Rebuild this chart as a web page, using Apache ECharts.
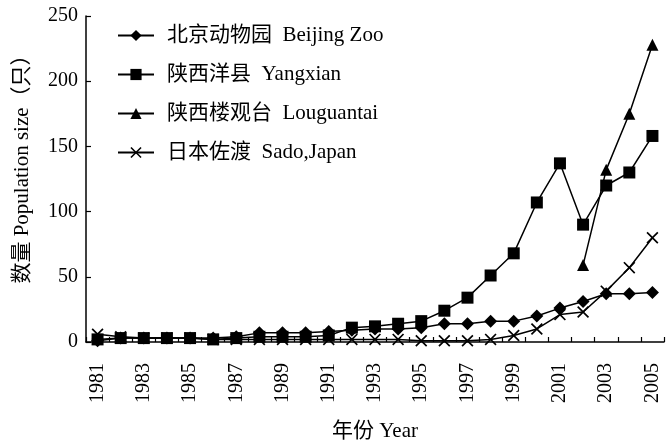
<!DOCTYPE html>
<html>
<head>
<meta charset="utf-8">
<script src="https://cdn.jsdelivr.net/npm/echarts@6/dist/echarts.min.js"></script>
<style>html,body{margin:0;padding:0;background:#fff}#c{width:667px;height:446px}</style>
</head>
<body>
<div id="c"></div>
<script>
const years = ['1981','1982','1983','1984','1985','1986','1987','1988','1989','1990','1991','1992','1993','1994','1995','1996','1997','1998','1999','2000','2001','2002','2003','2004','2005'];
const beijingZoo = [1,3,3,3,3,3,4,7,7,7,8,9,10,10,11,14,14,16,16,20,26,31,37,37,38];
const yangxian = [2,3,3,3,3,2,3,4,4,4,5,11,12,14,16,24,34,51,68,107,137,90,120,130,158];
const louguantai = [null,null,null,null,null,null,null,null,null,null,null,null,null,null,null,null,null,null,null,null,null,59,132,175,228];
const sado = [6,4,3,3,3,2,2,2,2,2,2,2,2,2,1,1,1,2,5,10,21,23,39,57,80];
const yTicks = {min:0, max:250, interval:50};
const names = ['北京动物园  Beijing Zoo','陕西洋县  Yangxian','陕西楼观台  Louguantai','日本佐渡  Sado,Japan'];

const FONT = '"Liberation Serif", "Noto Sans CJK SC", serif';
const crossPath = 'path://M0,1L1,0L5,4L9,0L10,1L6,5L10,9L9,10L5,6L1,10L0,9L4,5Z';
function mk(name, data, symbol, size){
  return {name:name, type:'line', data:data, symbol:symbol, symbolSize:size,
    showAllSymbol:true, connectNulls:false,
    lineStyle:{color:'#000', width:1.5}, itemStyle:{color:'#000'}, animation:false};
}
const chart = echarts.init(document.getElementById('c'));
chart.setOption({
  backgroundColor:'#fff',
  animation:false,
  grid:{left:86, right:3, top:16, bottom:104, containLabel:false, outerBoundsMode:'none'},
  legend:{orient:'vertical', left:117, top:25, padding:0, itemWidth:36, itemHeight:14, itemGap:18,
    textStyle:{fontFamily:FONT, fontSize:21, color:'#000', padding:[0,0,0,8]},
    data:names},
  xAxis:{type:'category', data:years, boundaryGap:true,
    name:'年份 Year', nameLocation:'middle', nameGap:79,
    nameTextStyle:{fontFamily:FONT, fontSize:21, color:'#000'},
    axisLine:{lineStyle:{color:'#000', width:1.5}},
    axisTick:{show:true, inside:true, length:5, interval:0, lineStyle:{color:'#000', width:1.2}},
    axisLabel:{interval:1, rotate:90, margin:21, fontFamily:FONT, fontSize:20, color:'#000'},
    splitLine:{show:false}},
  yAxis:{type:'value', min:yTicks.min, max:yTicks.max, interval:yTicks.interval,
    name:'数量 Population size（只）', nameLocation:'middle', nameGap:53,
    nameTextStyle:{fontFamily:FONT, fontSize:21, color:'#000', padding:[0,0,0,30]},
    axisLine:{show:true, lineStyle:{color:'#000', width:1.5}},
    axisTick:{show:true, inside:true, length:5, lineStyle:{color:'#000', width:1.2}},
    axisLabel:{margin:8, fontFamily:FONT, fontSize:20, color:'#000'},
    splitLine:{show:false}},
  series:[
    mk(names[0], beijingZoo, 'diamond', 13),
    mk(names[1], yangxian, 'rect', 12),
    mk(names[2], louguantai, 'triangle', 12),
    mk(names[3], sado, crossPath, 12)
  ]
});
</script>
</body>
</html>
